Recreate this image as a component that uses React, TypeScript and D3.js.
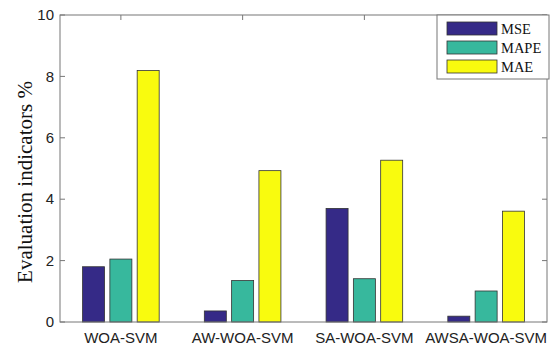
import * as d3 from "d3";
import { useEffect, useRef } from "react";

const categories = ["WOA-SVM", "AW-WOA-SVM", "SA-WOA-SVM", "AWSA-WOA-SVM"];
const series = ["MSE", "MAPE", "MAE"];
const mse = [1.8, 0.36, 3.7, 0.19];
const mape = [2.05, 1.35, 1.41, 1.01];
const mae = [8.19, 4.93, 5.27, 3.61];
const yTicks = [0, 2, 4, 6, 8, 10];
const colors = ["#352a87", "#37b89d", "#f9fb0e"];

export default function App() {
  const ref = useRef<SVGSVGElement>(null);
  const width = 556;
  const height = 346;

  useEffect(() => {
    const svg = d3.select(ref.current);
    svg.selectAll("*").remove();

    const left = 60, right = 547, top = 15, bottom = 322;
    const x = d3.scaleLinear().domain([0.5, 4.5]).range([left, right]);
    const y = d3.scaleLinear().domain([0, 10]).range([bottom, top]);
    const values = [mse, mape, mae];
    const bw = 22;
    const offset = 27.3;

    const g = svg.append("g");

    // bars
    values.forEach((vals, s) => {
      g.selectAll(null)
        .data(vals)
        .join("rect")
        .attr("x", (_, i) => x(i + 1) + (s - 1) * offset - bw / 2)
        .attr("y", (d) => y(d))
        .attr("width", bw)
        .attr("height", (d) => y(0) - y(d))
        .attr("fill", colors[s])
        .attr("stroke", "#333")
        .attr("stroke-width", 0.8);
    });

    // box
    g.append("rect")
      .attr("x", left)
      .attr("y", top)
      .attr("width", right - left)
      .attr("height", bottom - top)
      .attr("fill", "none")
      .attr("stroke", "#777")
      .attr("stroke-width", 1);

    // y ticks
    yTicks.forEach((t) => {
      g.append("line").attr("x1", left).attr("x2", left + 5)
        .attr("y1", y(t)).attr("y2", y(t)).attr("stroke", "#777");
      g.append("line").attr("x1", right).attr("x2", right - 5)
        .attr("y1", y(t)).attr("y2", y(t)).attr("stroke", "#777");
      g.append("text")
        .attr("x", left - 6)
        .attr("y", y(t))
        .attr("dy", "0.35em")
        .attr("text-anchor", "end")
        .attr("font-family", "Liberation Sans, Arial, sans-serif")
        .attr("font-size", 15)
        .attr("fill", "#222")
        .text(t);
    });

    // x ticks + labels
    categories.forEach((c, i) => {
      g.append("line").attr("x1", x(i + 1)).attr("x2", x(i + 1))
        .attr("y1", top).attr("y2", top + 5).attr("stroke", "#777");
      g.append("text")
        .attr("x", x(i + 1))
        .attr("y", 343)
        .attr("text-anchor", "middle")
        .attr("font-family", "Liberation Sans, Arial, sans-serif")
        .attr("font-size", 15)
        .attr("fill", "#222")
        .text(c);
    });

    // y label
    g.append("text")
      .attr("transform", `translate(32,182) rotate(-90)`)
      .attr("text-anchor", "middle")
      .attr("font-family", "Liberation Serif, Times New Roman, serif")
      .attr("font-size", 21)
      .attr("fill", "#111")
      .text("Evaluation indicators %");

    // legend
    const lg = g.append("g");
    lg.append("rect")
      .attr("x", 437).attr("y", 15).attr("width", 112).attr("height", 64)
      .attr("fill", "white").attr("stroke", "#777");
    series.forEach((s, i) => {
      lg.append("rect")
        .attr("x", 447).attr("y", 22 + i * 19).attr("width", 50).attr("height", 13)
        .attr("fill", colors[i]).attr("stroke", "#333").attr("stroke-width", 0.8);
      lg.append("text")
        .attr("x", 501).attr("y", 28.5 + i * 19).attr("dy", "0.35em")
        .attr("font-family", "Liberation Serif, Times New Roman, serif")
        .attr("font-size", 14.5)
        .attr("fill", "#111")
        .text(s);
    });
  }, []);

  return (
    <svg
      ref={ref}
      width={width}
      height={height}
      style={{ position: "absolute", left: 0, top: 0, background: "white" }}
    />
  );
}
